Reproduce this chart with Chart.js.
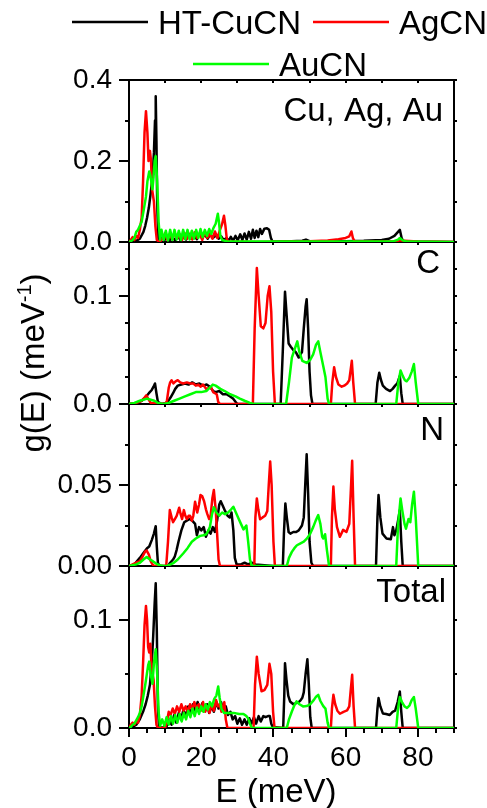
<!DOCTYPE html>
<html>
<head>
<meta charset="utf-8">
<script src="https://cdn.jsdelivr.net/npm/chart.js@4/dist/chart.umd.min.js"></script>
<style>
  html, body { margin: 0; padding: 0; background: #fff; }
  #wrap { position: relative; width: 487px; height: 808px; }
</style>
</head>
<body>
<div id="wrap"><canvas id="dos" width="487" height="808"></canvas></div>
<script>
// Partial and total phonon densities of states g(E) for HT-CuCN, AgCN and AuCN.
// Each series is a list of [E (meV), g(E) (meV^-1)] pairs.

const seriesNames = ['HT-CuCN', 'AgCN', 'AuCN'];
const panelTitles = ['Cu, Ag, Au', 'C', 'N', 'Total'];

// ---- metal atom (Cu, Ag, Au) ----
const cuMetal = [[0,0],[1,0.001],[2,0.003],[3,0.008],[4,0.025],[4.5,0.04],[5,0.06],[5.5,0.085],[6,0.12],[6.5,0.16],[6.9,0.22],[7.2,0.3],[7.4,0.36],[7.6,0.25],[7.8,0.1],[8.1,0.01],[8.5,0],[9.2,0.012],[9.8,0.004],[10.5,0.014],[11.2,0.004],[12,0.012],[12.8,0.004],[13.5,0.016],[14.2,0.005],[15,0.014],[15.8,0.006],[16.5,0.018],[17.2,0.008],[18,0.016],[18.8,0.007],[19.5,0.02],[20.2,0.01],[21,0.018],[21.8,0.008],[22.5,0.02],[23.2,0.01],[24,0.016],[24.8,0.008],[25.5,0.014],[26.2,0.005],[27,0.01],[27.6,0.003],[28.2,0.013],[28.8,0.003],[29.5,0.015],[30.1,0.004],[30.8,0.019],[31.4,0.005],[32,0.021],[32.6,0.006],[33.2,0.025],[33.8,0.008],[34.3,0.03],[34.8,0.01],[35.3,0.028],[35.8,0.012],[36.3,0.032],[36.8,0.02],[37.5,0.033],[38.2,0.034],[38.8,0.03],[39.3,0.01],[39.7,0.002],[40.5,0.001],[45,0.002],[48,0.003],[49,0.006],[50,0.002],[55,0.002],[60,0.002],[65,0.003],[70,0.005],[72,0.008],[73.5,0.015],[74.5,0.025],[75,0.03],[75.5,0.01],[76,0.001],[90,0]];
const agMetal = [[0,0],[0.5,0.005],[1,0.012],[1.5,0.005],[2,0.015],[2.5,0.01],[3,0.03],[3.5,0.06],[3.9,0.15],[4.3,0.27],[4.7,0.323],[5.1,0.27],[5.4,0.2],[5.8,0.225],[6.1,0.2],[6.4,0.13],[6.9,0.1],[7.3,0.04],[7.7,0.005],[8.5,0],[9.5,0.01],[10,0.022],[10.6,0.005],[11.3,0.02],[12,0.006],[12.6,0.024],[13.3,0.008],[14,0.02],[14.7,0.005],[15.4,0.022],[16.1,0.008],[16.8,0.02],[17.5,0.006],[18.2,0.024],[18.9,0.01],[19.6,0.02],[20.3,0.005],[21,0.025],[21.7,0.01],[22.4,0.02],[23.1,0.008],[23.8,0.026],[24.5,0.01],[25.2,0.03],[25.8,0.045],[26.3,0.065],[26.7,0.04],[27.1,0.006],[27.5,0.001],[35,0],[45,0.001],[50,0.002],[55,0.004],[58,0.007],[60,0.01],[61,0.014],[61.6,0.026],[62,0.01],[62.5,0.001],[74,0.002],[75,0.004],[80,0.001],[90,0]];
const auMetal = [[0,0],[0.5,0.002],[1,0.005],[1.5,0.01],[2,0.025],[2.5,0.03],[3,0.04],[3.5,0.05],[4,0.075],[4.7,0.112],[5.1,0.15],[5.6,0.174],[5.9,0.165],[6.5,0.13],[6.8,0.16],[7.1,0.2],[7.4,0.212],[7.8,0.15],[8.2,0.05],[8.6,0.005],[9,0.03],[9.6,0.005],[10.2,0.028],[10.8,0.004],[11.4,0.03],[12,0.005],[12.6,0.03],[13.2,0.006],[13.8,0.028],[14.4,0.005],[15,0.03],[15.6,0.007],[16.2,0.03],[16.8,0.006],[17.4,0.028],[18,0.008],[18.6,0.03],[19.2,0.01],[19.8,0.032],[20.4,0.012],[21,0.03],[21.6,0.015],[22.2,0.032],[22.8,0.02],[23.4,0.035],[24,0.045],[24.6,0.07],[24.9,0.05],[25.3,0.015],[25.8,0.005],[27,0.002],[40,0.001],[60,0.001],[73,0.001],[74.5,0.006],[75,0.01],[75.8,0.004],[77,0.001],[90,0]];

// ---- carbon ----
const cuCarbon = [[0,0],[2,0.001],[3.5,0.003],[4.5,0.006],[5.5,0.01],[6.3,0.013],[6.8,0.016],[7.2,0.019],[7.6,0.01],[8,0.002],[9,0],[10.5,0.001],[11.5,0.006],[12.2,0.01],[12.8,0.014],[13.5,0.017],[14.5,0.018],[15.5,0.019],[16.5,0.018],[17.5,0.02],[18.5,0.018],[19.5,0.019],[20.5,0.017],[21.5,0.018],[22.4,0.016],[23.3,0.012],[24,0.011],[25,0.012],[26,0.009],[27,0.009],[28,0.007],[28.8,0.005],[29.5,0.002],[30,0],[42,0],[42.6,0.05],[43.2,0.104],[43.7,0.08],[44.2,0.056],[44.8,0.053],[45.5,0.05],[46.2,0.048],[47,0.043],[47.5,0.046],[47.9,0.048],[48.4,0.07],[48.9,0.09],[49.2,0.097],[49.6,0.07],[50,0.03],[50.4,0.008],[50.8,0],[68.3,0],[68.8,0.02],[69.3,0.029],[69.8,0.022],[70.3,0.017],[71.2,0.014],[72.3,0.012],[73,0.014],[73.7,0.017],[74.3,0.019],[75,0.026],[75.4,0.01],[75.8,0],[90,0]];
const agCarbon = [[0,0],[2,0.001],[3.5,0.003],[4.3,0.006],[4.8,0.008],[5.3,0.005],[6,0.001],[10,0],[10.5,0.003],[11,0.015],[11.4,0.02],[11.8,0.022],[12.3,0.019],[12.9,0.021],[13.5,0.022],[14.2,0.02],[15,0.019],[16,0.02],[17,0.019],[17.8,0.019],[18.5,0.017],[19.2,0.018],[19.8,0.016],[20.5,0.018],[21.4,0.014],[22.2,0.015],[22.8,0.015],[23.3,0.011],[23.8,0.01],[24.3,0.009],[24.7,0.002],[25.2,0],[34.3,0],[34.8,0.07],[35.4,0.126],[35.9,0.1],[36.5,0.072],[37.2,0.07],[37.8,0.075],[38.4,0.1],[38.9,0.109],[39.4,0.085],[39.9,0.03],[40.4,0],[55.9,0],[56.3,0.02],[56.8,0.034],[57.3,0.025],[58,0.018],[58.9,0.016],[59.6,0.017],[60.4,0.019],[61,0.022],[61.4,0.032],[61.7,0.04],[62.1,0.02],[62.6,0],[90,0]];
const auCarbon = [[0,0],[1.5,0.001],[3,0.003],[4,0.004],[5,0.005],[6,0.004],[7,0.003],[8,0.001],[9.5,0],[11,0.001],[12.5,0.003],[14,0.005],[15.5,0.007],[17,0.009],[18.5,0.011],[20,0.011],[21.4,0.012],[22.3,0.015],[23.2,0.018],[24,0.017],[25.3,0.014],[26.5,0.012],[28,0.009],[29.5,0.007],[30.7,0.005],[32,0.003],[33.5,0.001],[34.5,0],[43.5,0],[44.3,0.02],[45.1,0.043],[45.8,0.05],[46.6,0.058],[47.2,0.048],[48,0.04],[49.2,0.038],[50.2,0.041],[51,0.046],[51.8,0.055],[52.4,0.058],[53,0.048],[53.8,0.035],[54.4,0.025],[55,0.005],[55.4,0],[74,0],[74.6,0.02],[75.2,0.031],[75.8,0.026],[76.4,0.022],[76.9,0.021],[77.6,0.024],[78.3,0.03],[78.9,0.037],[79.4,0.02],[80.1,0],[90,0]];

// ---- nitrogen ----
const cuNitrogen = [[0,0],[1.5,0.001],[3,0.005],[4,0.008],[5,0.011],[5.6,0.012],[6.3,0.016],[6.9,0.02],[7.4,0.0246],[7.7,0.012],[8,0.002],[8.5,0],[10.8,0],[11.4,0.002],[12.2,0.004],[12.7,0.006],[13.2,0.01],[13.7,0.015],[14.5,0.022],[15.3,0.027],[16,0.028],[16.8,0.029],[17.5,0.028],[18.3,0.026],[18.8,0.019],[19.4,0.024],[20,0.022],[20.7,0.024],[21.3,0.018],[22,0.022],[22.6,0.02],[23.2,0.024],[23.8,0.021],[24.4,0.028],[25,0.038],[25.4,0.04],[26,0.037],[26.6,0.034],[27.3,0.031],[27.9,0.03],[28.4,0.033],[28.9,0.022],[29.3,0.005],[29.8,0.001],[31,0.001],[32,0.002],[33,0.001],[34,0.002],[35,0.001],[40,0],[42.6,0],[42.9,0.02],[43.3,0.0386],[43.7,0.03],[44.2,0.021],[44.7,0.02],[45.5,0.021],[46.3,0.021],[47,0.022],[47.9,0.025],[48.4,0.03],[48.8,0.05],[49.2,0.069],[49.6,0.045],[50,0.015],[50.5,0.002],[51,0],[68.4,0],[68.8,0.03],[69.1,0.0438],[69.6,0.03],[70.2,0.02],[71.3,0.017],[72.5,0.0165],[73.1,0.024],[73.5,0.019],[74,0.022],[74.5,0.028],[75,0.0345],[75.4,0.015],[75.8,0],[90,0]];
const agNitrogen = [[0,0],[1,0.001],[2,0.002],[3,0.003],[3.8,0.006],[4.5,0.009],[4.9,0.0095],[5.5,0.007],[6,0.003],[6.5,0.001],[7,0],[10.3,0],[10.8,0.015],[11.3,0.0345],[11.8,0.03],[12.2,0.027],[12.7,0.029],[13.2,0.031],[13.9,0.036],[14.3,0.032],[14.7,0.029],[15.2,0.0345],[15.6,0.031],[16,0.029],[16.5,0.031],[16.9,0.031],[17.4,0.028],[17.8,0.031],[18.3,0.0397],[18.9,0.033],[19.4,0.038],[19.8,0.0438],[20.3,0.043],[20.8,0.04],[21.3,0.035],[21.7,0.032],[22.2,0.029],[22.6,0.031],[23.1,0.042],[23.5,0.0469],[24,0.035],[24.4,0.02],[24.8,0.004],[25.2,0],[34.7,0],[35,0.03],[35.4,0.0417],[35.8,0.035],[36.3,0.0288],[37,0.03],[37.7,0.031],[38.3,0.034],[38.7,0.05],[39.1,0.0645],[39.5,0.05],[40,0.015],[40.4,0],[55.9,0],[56.2,0.03],[56.6,0.049],[57,0.035],[57.6,0.024],[58.4,0.018],[59.3,0.0223],[60.2,0.021],[61,0.026],[61.4,0.045],[61.8,0.0649],[62.2,0.03],[62.6,0],[90,0]];
const auNitrogen = [[0,0],[1,0.0005],[2,0.001],[3,0.002],[4,0.004],[4.9,0.0056],[5.8,0.004],[6.6,0.003],[7.5,0.0015],[8.4,0.0005],[9.5,0],[10.5,0],[11.5,0.001],[12.4,0.002],[13.5,0.004],[15,0.0077],[16.2,0.011],[17.4,0.015],[18.5,0.017],[19.7,0.0186],[20.6,0.019],[21.4,0.0196],[22,0.022],[22.4,0.024],[23,0.032],[23.5,0.0362],[24.2,0.033],[25,0.031],[25.8,0.033],[26.6,0.032],[27.4,0.033],[28.3,0.035],[28.9,0.0366],[29.6,0.033],[30.3,0.0294],[31,0.026],[31.7,0.0226],[32.2,0.024],[32.5,0.025],[33,0.015],[33.5,0.004],[34,0],[43.7,0],[44.3,0.005],[45.1,0.0087],[45.8,0.011],[46.5,0.0128],[47.5,0.014],[48.4,0.015],[49.3,0.017],[50.2,0.02],[51,0.024],[51.7,0.028],[52.4,0.0314],[53,0.026],[53.5,0.018],[53.8,0.017],[54.3,0.0196],[54.8,0.01],[55.4,0],[74,0],[74.5,0.025],[75.2,0.0417],[75.7,0.034],[76.3,0.026],[76.7,0.023],[77.4,0.029],[77.9,0.027],[78.4,0.038],[78.9,0.0459],[79.4,0.03],[80.1,0],[90,0]];

// ---- total ----
const cuTotal = [[0,0],[1,0.001],[2,0.003],[3,0.008],[4,0.016],[4.6,0.022],[5.2,0.03],[5.8,0.04],[6.3,0.06],[6.7,0.085],[7.1,0.115],[7.4,0.134],[7.7,0.09],[8,0.02],[8.3,0.002],[9,0],[10.5,0.002],[11.2,0.008],[11.8,0.003],[12.5,0.012],[13.1,0.005],[13.8,0.014],[14.4,0.008],[15.1,0.017],[15.7,0.01],[16.4,0.02],[17,0.012],[17.7,0.022],[18.3,0.015],[19,0.024],[19.6,0.016],[20.3,0.023],[20.9,0.016],[21.6,0.022],[22.2,0.014],[22.9,0.02],[23.5,0.015],[24.2,0.024],[24.8,0.018],[25.5,0.024],[26.1,0.016],[26.8,0.02],[27.4,0.012],[28.1,0.015],[28.7,0.008],[29.4,0.011],[30,0.004],[30.7,0.009],[31.3,0.003],[32,0.008],[32.6,0.003],[33.3,0.009],[33.9,0.004],[34.6,0.01],[35.2,0.004],[35.9,0.011],[36.5,0.006],[37.2,0.011],[37.8,0.01],[38.5,0.011],[39,0.011],[39.4,0.004],[39.8,0.001],[42.7,0],[43,0.03],[43.2,0.06],[43.6,0.045],[44.1,0.03],[44.6,0.0246],[45.5,0.022],[46.3,0.023],[47,0.024],[47.5,0.0256],[48,0.028],[48.4,0.033],[48.9,0.05],[49.4,0.0637],[49.8,0.04],[50.2,0.01],[50.6,0],[68.4,0],[68.8,0.018],[69.1,0.0277],[69.6,0.02],[70.3,0.0135],[71.2,0.013],[72.2,0.012],[73,0.015],[73.7,0.016],[74.4,0.024],[75,0.0338],[75.4,0.015],[75.8,0],[90,0]];
const agTotal = [[0,0],[0.5,0.003],[1,0.005],[1.5,0.003],[2,0.006],[2.5,0.005],[3,0.012],[3.5,0.03],[3.9,0.06],[4.3,0.095],[4.7,0.113],[5,0.1],[5.3,0.075],[5.6,0.07],[5.9,0.078],[6.2,0.06],[6.5,0.05],[6.8,0.045],[7.2,0.02],[7.6,0.003],[8,0],[10,0],[10.5,0.006],[11,0.015],[11.5,0.012],[12.1,0.018],[12.7,0.013],[13.3,0.02],[13.9,0.015],[14.5,0.022],[15.1,0.016],[15.7,0.02],[16.3,0.015],[16.9,0.022],[17.5,0.017],[18.1,0.024],[18.7,0.018],[19.3,0.022],[19.9,0.016],[20.5,0.024],[21.1,0.015],[21.7,0.02],[22.3,0.014],[22.9,0.022],[23.5,0.016],[24.1,0.026],[24.6,0.02],[25.1,0.022],[25.6,0.015],[26,0.02],[26.4,0.024],[26.8,0.008],[27.2,0.001],[27.6,0],[34.5,0],[34.9,0.04],[35.4,0.066],[35.9,0.05],[36.7,0.034],[37.5,0.035],[38.3,0.04],[38.9,0.0594],[39.4,0.05],[39.9,0.015],[40.3,0],[55.9,0],[56.2,0.018],[56.6,0.0307],[57.1,0.022],[57.7,0.016],[58.4,0.0132],[59.4,0.015],[60.4,0.0163],[61,0.02],[61.4,0.035],[61.8,0.0492],[62.2,0.02],[62.6,0],[90,0]];
const auTotal = [[0,0],[0.5,0.001],[1,0.003],[1.5,0.004],[2,0.007],[2.5,0.01],[3,0.014],[3.5,0.02],[4,0.03],[4.5,0.04],[4.9,0.049],[5.3,0.058],[5.6,0.0615],[6,0.05],[6.5,0.041],[6.9,0.06],[7.4,0.073],[7.8,0.05],[8.2,0.015],[8.6,0.002],[9.2,0.008],[9.8,0.002],[10.4,0.01],[11,0.003],[11.6,0.011],[12.2,0.004],[12.8,0.012],[13.4,0.005],[14,0.013],[14.6,0.006],[15.2,0.014],[15.8,0.008],[16.4,0.016],[17,0.01],[17.6,0.018],[18.2,0.011],[18.8,0.019],[19.4,0.013],[20,0.02],[20.6,0.015],[21.2,0.022],[21.8,0.017],[22.4,0.024],[23,0.02],[23.6,0.027],[24.2,0.03],[24.7,0.0384],[25.1,0.028],[25.6,0.018],[26.3,0.014],[27.5,0.014],[29,0.014],[30.5,0.013],[31.7,0.013],[32.5,0.011],[33,0.009],[33.5,0.004],[34,0],[43.7,0],[44.3,0.008],[45.1,0.0153],[45.8,0.021],[46.4,0.0246],[47.2,0.022],[48.2,0.02],[49.2,0.0203],[50.2,0.022],[51.2,0.026],[51.8,0.029],[52.4,0.0307],[53,0.025],[53.8,0.0203],[54.4,0.018],[55,0.005],[55.4,0],[74,0],[74.5,0.018],[75,0.0286],[75.6,0.024],[76.3,0.02],[77,0.0185],[77.7,0.021],[78.3,0.026],[78.9,0.0286],[79.4,0.018],[80.1,0],[90,0]];

// ---- axis ticks ----
const energyLabels = [0, 20, 40, 60, 80];
const energyMinor = [5, 10, 15, 25, 30, 35, 45, 50, 55, 65, 70, 75, 85, 90];
const energyTopTicks = [10, 20, 30, 40, 50, 60, 70, 80];
const metalLabels = [0, 0.2, 0.4],   metalMinor = [0.1, 0.3];
const carbonLabels = [0, 0.1],       carbonMinor = [0.025, 0.05, 0.075, 0.125];
const nitrogenLabels = [0, 0.05],    nitrogenMinor = [0.025, 0.075];
const totalLabels = [0, 0.1],        totalMinor = [0.05];

const FONT = "'Liberation Sans', Arial, Helvetica, sans-serif";
const COLORS = ['#000000', '#ff0000', '#00ff00'];

const panels = [
  { id: 'yM', max: 0.4,  labels: metalLabels,    minor: metalMinor,    digits: 1, sets: [cuMetal, agMetal, auMetal],
    title: panelTitles[0], tx: 443, ty: 121 },
  { id: 'yC', max: 0.15, labels: carbonLabels,   minor: carbonMinor,   digits: 1, sets: [cuCarbon, agCarbon, auCarbon],
    title: panelTitles[1], tx: 440, ty: 273 },
  { id: 'yN', max: 0.1,  labels: nitrogenLabels, minor: nitrogenMinor, digits: 2, sets: [cuNitrogen, agNitrogen, auNitrogen],
    title: panelTitles[2], tx: 444, ty: 440 },
  { id: 'yT', max: 0.15, labels: totalLabels,    minor: totalMinor,    digits: 1, sets: [cuTotal, agTotal, auTotal],
    title: panelTitles[3], tx: 446, ty: 602 }
];

const toPoints = arr => arr.map(([x, y]) => ({ x, y }));

const datasets = [];
panels.forEach(p => {
  p.sets.forEach((arr, i) => {
    datasets.push({
      label: seriesNames[i],
      data: toPoints(arr),
      yAxisID: p.id,
      xAxisID: 'x',
      borderColor: COLORS[i],
      backgroundColor: COLORS[i],
      borderWidth: 2.5,
      borderJoinStyle: 'round',
      pointRadius: 0,
      tension: 0,
      fill: false,
      order: 2 - i
    });
  });
});

const scales = {
  x: {
    type: 'linear', position: 'bottom', min: 0, max: 90,
    afterBuildTicks: s => { s.ticks = energyLabels.map(v => ({ value: v })); },
    afterFit: s => { s.height = 80; },
    ticks: { font: { family: FONT, size: 28 }, color: '#000', padding: 13, maxRotation: 0, autoSkip: false },
    grid: { display: false, drawTicks: false },
    border: { display: false }
  }
};
panels.forEach((p, k) => {
  scales[p.id] = {
    type: 'linear', position: 'left', stack: 'panels', stackWeight: 1, weight: 4 - k,
    min: 0, max: p.max,
    afterBuildTicks: s => { s.ticks = p.labels.map(v => ({ value: v })); },
    afterFit: s => { s.width = 129; },
    ticks: { font: { family: FONT, size: 28 }, color: '#000', padding: 17, autoSkip: false,
             callback: v => Number(v).toFixed(p.digits) },
    grid: { display: false, drawTicks: false },
    border: { display: false }
  };
});

function seg(ctx, x1, y1, x2, y2) {
  ctx.beginPath(); ctx.moveTo(x1, y1); ctx.lineTo(x2, y2); ctx.stroke();
}

const decor = {
  id: 'decor',
  beforeDatasetsDraw(chart) {
    const { ctx, scales: sc } = chart;
    const xs = sc.x;
    ctx.save();
    ctx.strokeStyle = '#000';
    ctx.lineWidth = 2;
    panels.forEach(p => {
      const ys = sc[p.id];
      ctx.strokeRect(xs.left, ys.top, xs.right - xs.left, ys.bottom - ys.top);
    });
    ctx.restore();
  },
  afterDraw(chart) {
    const { ctx, scales: sc } = chart;
    const xs = sc.x;
    ctx.save();
    ctx.strokeStyle = '#000';
    ctx.lineWidth = 2;
    // vertical-axis ticks (left outward, right outward)
    panels.forEach(p => {
      const ys = sc[p.id];
      p.labels.forEach(v => {
        const y = Math.round(ys.getPixelForValue(v));
        seg(ctx, xs.left - 10, y, xs.left, y);
        seg(ctx, xs.right, y, xs.right + 3, y);
      });
      p.minor.forEach(v => {
        const y = Math.round(ys.getPixelForValue(v));
        seg(ctx, xs.left - 4, y, xs.left, y);
        seg(ctx, xs.right, y, xs.right + 3, y);
      });
      // small ticks hanging from each panel's top edge
      energyTopTicks.forEach(e => {
        const x = Math.round(xs.getPixelForValue(e));
        seg(ctx, x, ys.top, x, ys.top + 3);
      });
    });
    // energy-axis ticks
    energyLabels.forEach(e => {
      const x = Math.round(xs.getPixelForValue(e));
      seg(ctx, x, xs.top, x, xs.top + 9);
    });
    energyMinor.forEach(e => {
      const x = Math.round(xs.getPixelForValue(e));
      seg(ctx, x, xs.top, x, xs.top + 5);
    });

    ctx.fillStyle = '#000';
    ctx.textBaseline = 'alphabetic';
    // panel titles
    ctx.font = `33px ${FONT}`;
    ctx.textAlign = 'right';
    panels.forEach(p => ctx.fillText(p.title, p.tx, p.ty));

    // axis titles
    ctx.textAlign = 'center';
    ctx.fillText('E (meV)', 276, 802);

    ctx.save();
    ctx.translate(44, 363);
    ctx.rotate(-Math.PI / 2);
    ctx.textAlign = 'left';
    const main = 'g(E) (meV', sup = '-1', close = ')';
    ctx.font = `33px ${FONT}`;
    const wMain = ctx.measureText(main).width, wClose = ctx.measureText(close).width;
    ctx.font = `20px ${FONT}`;
    const wSup = ctx.measureText(sup).width;
    let x0 = -(wMain + wSup + wClose) / 2;
    ctx.font = `33px ${FONT}`;
    ctx.fillText(main, x0, 0);
    ctx.font = `20px ${FONT}`;
    ctx.fillText(sup, x0 + wMain, -13);
    ctx.font = `33px ${FONT}`;
    ctx.fillText(close, x0 + wMain + wSup, 0);
    ctx.restore();

    // legend
    const items = [
      { name: seriesNames[0], color: COLORS[0], x: 72,  y: 22 },
      { name: seriesNames[1], color: COLORS[1], x: 313, y: 22 },
      { name: seriesNames[2], color: COLORS[2], x: 193, y: 64 }
    ];
    ctx.font = `33px ${FONT}`;
    ctx.textAlign = 'left';
    items.forEach(it => {
      ctx.strokeStyle = it.color;
      ctx.lineWidth = 2.5;
      seg(ctx, it.x, it.y, it.x + 76, it.y);
      ctx.fillStyle = '#000';
      ctx.fillText(it.name, it.x + 86, it.y + 11.5);
    });
    ctx.restore();
  }
};

new Chart(document.getElementById('dos'), {
  type: 'line',
  data: { datasets },
  options: {
    responsive: false,
    animation: false,
    devicePixelRatio: 1,
    parsing: { xAxisKey: 'x', yAxisKey: 'y' },
    layout: { padding: { top: 80, right: 33, left: 0, bottom: 0 } },
    plugins: { legend: { display: false }, tooltip: { enabled: false }, title: { display: false } },
    scales
  },
  plugins: [decor]
});
</script>
</body>
</html>
